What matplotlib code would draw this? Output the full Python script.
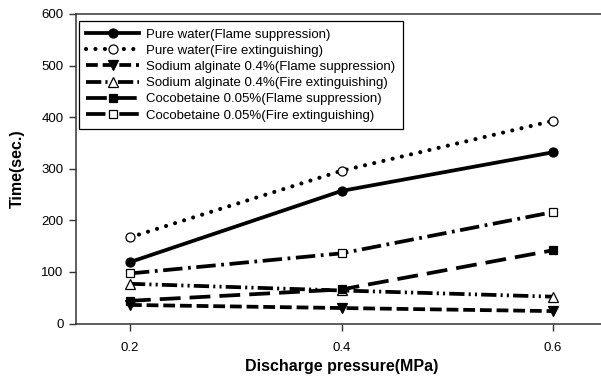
import matplotlib
matplotlib.use("Agg")
import matplotlib.pyplot as plt

plt.rcParams['font.family'] = ['Liberation Sans', 'DejaVu Sans']
plt.rcParams['lines.scale_dashes'] = False

pressure = [0.2, 0.4, 0.6]
xticks = [0.2, 0.4, 0.6]
yticks = [0, 100, 200, 300, 400, 500, 600]

labels = [
    "Pure water(Flame suppression)",
    "Pure water(Fire extinguishing)",
    "Sodium alginate 0.4%(Flame suppression)",
    "Sodium alginate 0.4%(Fire extinguishing)",
    "Cocobetaine 0.05%(Flame suppression)",
    "Cocobetaine 0.05%(Fire extinguishing)",
]
pure_flame = [119, 257, 332]
pure_fire = [167, 296, 393]
sodium_flame = [36, 30, 24]
sodium_fire = [77, 64, 52]
coco_flame = [44, 66, 142]
coco_fire = [97, 136, 216]

series = [pure_flame, pure_fire, sodium_flame, sodium_fire, coco_flame, coco_fire]
styles = [
    dict(ls='-', marker='o', mfc='black', lw=2.7),
    dict(ls=(0, (0.01, 6.8)), marker='o', mfc='white', dash_capstyle='round', lw=3.0),
    dict(ls=(0, (8.5, 3.5)), marker='v', mfc='black', lw=2.7),
    dict(ls=(0, (11, 3, 1.5, 3, 1.5, 3)), marker='^', mfc='white', lw=2.7),
    dict(ls=(0, (15, 6.5)), marker='s', mfc='black', lw=2.7),
    dict(ls=(0, (14, 4, 2, 4)), marker='s', mfc='white', lw=2.7),
]

fig = plt.figure(figsize=(6.01, 3.78), dpi=100)
ax = fig.add_axes([76/601, 1-323.5/378, 1-76/601+0.01, (323.5-14)/378])

for vals, lab, st in zip(series, labels, styles):
    ax.plot(pressure, vals, color='black', lw=st['lw'], ls=st['ls'], marker=st['marker'],
            ms=6.5 if st['marker'] != 's' else 6, mfc=st['mfc'], mec='black', mew=0.9,
            dash_capstyle=st.get('dash_capstyle', 'butt'), label=lab)

ax.set_xlim(0.149, 0.651)
ax.set_ylim(0, 600)
ax.set_xticks(xticks)
ax.set_xticklabels([f"{v:.1f}" for v in xticks])
ax.set_yticks(yticks)
ax.tick_params(direction='out', length=5, width=1, labelsize=9.5, color='#333333', pad=4)
ax.tick_params(axis='x', pad=8)
for s in ['left', 'bottom', 'top']:
    ax.spines[s].set_linewidth(1.1)
    ax.spines[s].set_color('#333333')
ax.spines['right'].set_visible(False)

ax.set_xlabel("Discharge pressure(MPa)", fontsize=11.5, fontweight='bold', labelpad=4)
ax.set_ylabel("Time(sec.)", fontsize=11.5, fontweight='bold', labelpad=12)

leg = ax.legend(loc='upper left', bbox_to_anchor=(0.006, 0.977), borderaxespad=0,
                fontsize=9.5, frameon=True, fancybox=False, framealpha=1,
                edgecolor='black', handlelength=4.0, handletextpad=0.55,
                labelspacing=0.3, borderpad=0.55)
leg.get_frame().set_linewidth(0.9)

fig.savefig("out.png", dpi=100)
